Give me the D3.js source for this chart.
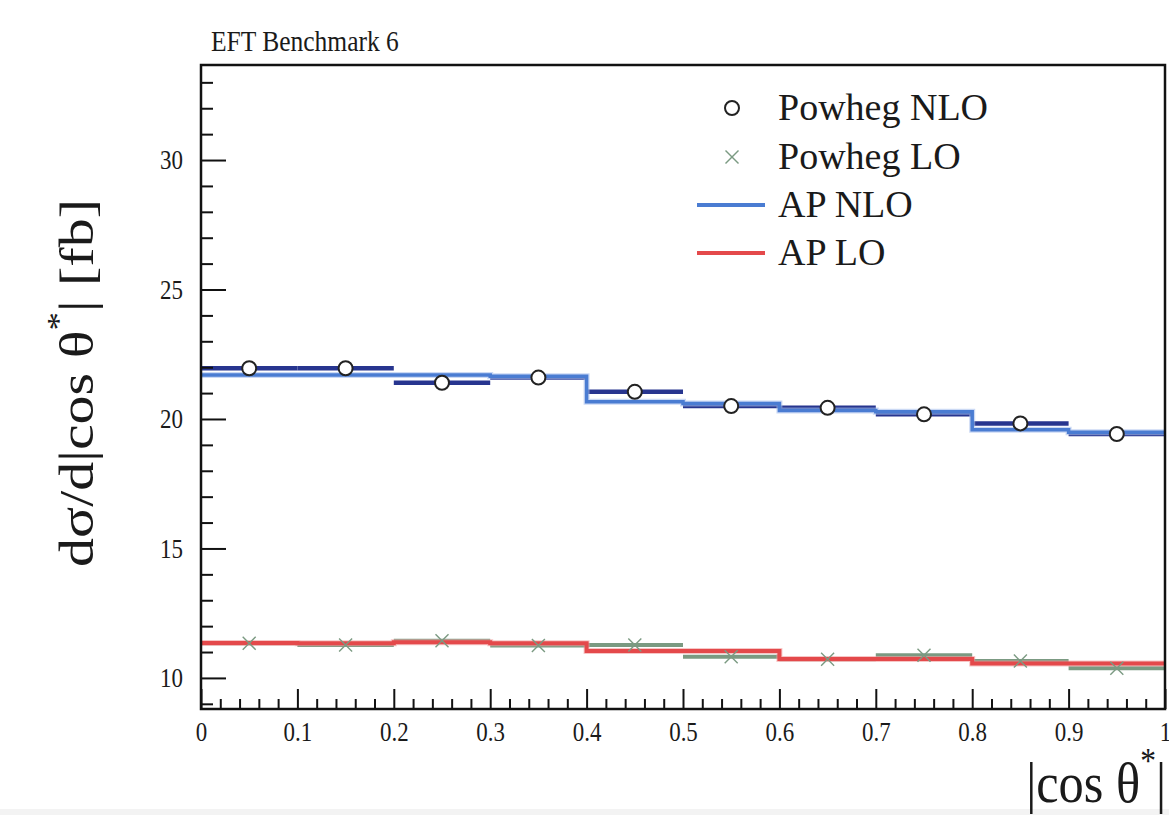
<!DOCTYPE html>
<html>
<head>
<meta charset="utf-8">
<script src="https://cdn.jsdelivr.net/npm/d3@7"></script>
<style>
  body { margin: 0; background: #fff; }
  svg { display: block; font-family: "Liberation Serif", "Times New Roman", serif; }
</style>
</head>
<body>
<svg id="chart" width="1169" height="815"></svg>
<script>
// ---------- data ----------
const binLow  = [0.0, 0.1, 0.2, 0.3, 0.4, 0.5, 0.6, 0.7, 0.8, 0.9];
const binHigh = [0.1, 0.2, 0.3, 0.4, 0.5, 0.6, 0.7, 0.8, 0.9, 1.0];
const powhegNLO = [21.96, 21.96, 21.40, 21.60, 21.05, 20.50, 20.43, 20.18, 19.83, 19.42];
const powhegLO  = [11.34, 11.27, 11.44, 11.25, 11.27, 10.82, 10.72, 10.88, 10.65, 10.37];
const apNLO     = [21.70, 21.70, 21.70, 21.65, 20.67, 20.60, 20.33, 20.28, 19.58, 19.49];
const apLO      = [11.35, 11.34, 11.38, 11.34, 11.04, 11.04, 10.73, 10.73, 10.56, 10.56];
const xMajorTicks = [0, 0.1, 0.2, 0.3, 0.4, 0.5, 0.6, 0.7, 0.8, 0.9, 1];
const xTickLabels = ["0", "0.1", "0.2", "0.3", "0.4", "0.5", "0.6", "0.7", "0.8", "0.9", "1"];
const yMajorTicks = [10, 15, 20, 25, 30];
const yMinorTicks = [9, 11, 12, 13, 14, 16, 17, 18, 19, 21, 22, 23, 24, 26, 27, 28, 29, 31, 32, 33];
const xMinorTicks = [0.02,0.04,0.06,0.08,0.12,0.14,0.16,0.18,0.22,0.24,0.26,0.28,0.32,0.34,0.36,0.38,
                     0.42,0.44,0.46,0.48,0.52,0.54,0.56,0.58,0.62,0.64,0.66,0.68,0.72,0.74,0.76,0.78,
                     0.82,0.84,0.86,0.88,0.92,0.94,0.96,0.98];
const legendLabels = ["Powheg NLO", "Powheg LO", "AP NLO", "AP LO"];
const titleText = "EFT Benchmark 6";
const xDomain = [0, 1];
const yDomain = [8.8, 33.67];

// ---------- layout ----------
const L = 201, R = 1165, T = 65, B = 709;
const colNavy = "#27358f", colBlue = "#4a7cd2", colRed = "#e4494b", colGreen = "#7b9a82";
const squeeze = 0.85;

const svg = d3.select("#chart");
svg.append("rect").attr("x", 0).attr("y", 0).attr("width", 1169).attr("height", 815).attr("fill", "#fff");
svg.append("rect").attr("x", 0).attr("y", 809).attr("width", 1169).attr("height", 6).attr("fill", "#f3f3f3");

const x = d3.scaleLinear().domain(xDomain).range([L, R]);
const y = d3.scaleLinear().domain(yDomain).range([B, T]);

const bins = binLow.map((lo, i) => ({lo, hi: binHigh[i], c: (lo + binHigh[i]) / 2, i}));

function stepLine(vals) {
  const pts = [];
  bins.forEach(b => { pts.push([x(b.lo), y(vals[b.i])]); pts.push([x(b.hi), y(vals[b.i])]); });
  return d3.line()(pts);
}

const plot = svg.append("g");

// Powheg LO bars
plot.selectAll("line.plo").data(bins).join("line")
  .attr("x1", d => x(d.lo)).attr("x2", d => x(d.hi))
  .attr("y1", d => y(powhegLO[d.i])).attr("y2", d => y(powhegLO[d.i]))
  .attr("stroke", colGreen).attr("stroke-width", 4);

// AP LO step
plot.append("path").attr("d", stepLine(apLO)).attr("fill", "none")
  .attr("stroke", "#f2a0a0").attr("stroke-width", 6).attr("opacity", 0.6);
plot.append("path").attr("d", stepLine(apLO)).attr("fill", "none")
  .attr("stroke", colRed).attr("stroke-width", 4);

// Powheg NLO bars
plot.selectAll("line.pnlo").data(bins).join("line")
  .attr("x1", d => x(d.lo)).attr("x2", d => x(d.hi))
  .attr("y1", d => y(powhegNLO[d.i])).attr("y2", d => y(powhegNLO[d.i]))
  .attr("stroke", colNavy).attr("stroke-width", 4.5);

// AP NLO step
plot.append("path").attr("d", stepLine(apNLO)).attr("fill", "none")
  .attr("stroke", "#a8c0ec").attr("stroke-width", 6).attr("opacity", 0.6);
plot.append("path").attr("d", stepLine(apNLO)).attr("fill", "none")
  .attr("stroke", colBlue).attr("stroke-width", 3.5);

// Powheg LO crosses
const cs = 6.5;
plot.selectAll("g.xm").data(bins).join("g")
  .attr("transform", d => `translate(${x(d.c)},${y(powhegLO[d.i])})`)
  .each(function() {
    const g = d3.select(this);
    g.append("line").attr("x1", -cs).attr("y1", -cs).attr("x2", cs).attr("y2", cs);
    g.append("line").attr("x1", -cs).attr("y1", cs).attr("x2", cs).attr("y2", -cs);
  })
  .selectAll("line").attr("stroke", colGreen).attr("stroke-width", 1.4);

// Powheg NLO circles
plot.selectAll("circle.om").data(bins).join("circle")
  .attr("cx", d => x(d.c)).attr("cy", d => y(powhegNLO[d.i])).attr("r", 7)
  .attr("fill", "#fff").attr("stroke", "#222").attr("stroke-width", 2);

// ---------- axes ----------
const yAxis = svg.append("g").attr("transform", `translate(${L},0)`)
  .call(d3.axisLeft(y).tickValues(yMajorTicks).tickSize(-25).tickPadding(18).tickFormat(d3.format("d")));
const yMinor = svg.append("g").attr("transform", `translate(${L},0)`)
  .call(d3.axisLeft(y).tickValues(yMinorTicks).tickSize(-12).tickFormat(""));
const xAxis = svg.append("g").attr("transform", `translate(0,${B})`)
  .call(d3.axisBottom(x).tickValues(xMajorTicks).tickSize(-20).tickPadding(13)
        .tickFormat((d, i) => xTickLabels[i]));
const xMinor = svg.append("g").attr("transform", `translate(0,${B})`)
  .call(d3.axisBottom(x).tickValues(xMinorTicks).tickSize(-10).tickFormat(""));

[yAxis, yMinor, xAxis, xMinor].forEach(a => {
  a.select(".domain").remove();
  a.selectAll(".tick line").attr("stroke", "#111").attr("stroke-width", 2);
  a.selectAll(".tick text")
    .attr("font-family", "Liberation Serif").attr("font-size", 27).attr("fill", "#1a1a1a")
    .attr("transform", function() {
      const tx = +d3.select(this).attr("x") || 0;
      return `translate(${tx},0) scale(${squeeze},1) translate(${-tx},0)`;
    });
});

// frame
svg.append("rect").attr("x", L).attr("y", T).attr("width", R - L).attr("height", B - T)
  .attr("fill", "none").attr("stroke", "#111").attr("stroke-width", 2.5);

// ---------- texts ----------
svg.append("text").attr("transform", `translate(211,51) scale(${squeeze},1)`)
  .attr("font-size", 30).attr("fill", "#1a1a1a").text(titleText);

// y label
const yl = svg.append("text").attr("transform", `translate(93,199) scale(${squeeze},1) rotate(-90)`)
  .attr("text-anchor", "end").attr("font-size", 58).attr("fill", "#1a1a1a");
yl.append("tspan").text("dσ/d|cos θ");
yl.append("tspan").attr("dy", -28).attr("font-size", 37).text("*");
yl.append("tspan").attr("dy", 28).text("| [fb]");

// x label
const xl = svg.append("text").attr("transform", `translate(1166,802) scale(0.9,1)`)
  .attr("text-anchor", "end").attr("font-size", 56).attr("fill", "#1a1a1a");
xl.append("tspan").text("|cos θ");
xl.append("tspan").attr("dy", -29).attr("font-size", 35).text("*");
xl.append("tspan").attr("dy", 29).text("|");

// ---------- legend ----------
const legY = [108, 157, 205, 253];
const leg = svg.append("g");
leg.append("circle").attr("cx", 732).attr("cy", legY[0]).attr("r", 7)
  .attr("fill", "#fff").attr("stroke", "#222").attr("stroke-width", 2);
const lx = leg.append("g").attr("transform", `translate(732,${legY[1]})`);
lx.append("line").attr("x1", -cs).attr("y1", -cs).attr("x2", cs).attr("y2", cs);
lx.append("line").attr("x1", -cs).attr("y1", cs).attr("x2", cs).attr("y2", -cs);
lx.selectAll("line").attr("stroke", colGreen).attr("stroke-width", 1.4);
leg.append("line").attr("x1", 697).attr("x2", 765).attr("y1", legY[2]).attr("y2", legY[2])
  .attr("stroke", colBlue).attr("stroke-width", 4);
leg.append("line").attr("x1", 697).attr("x2", 765).attr("y1", legY[3]).attr("y2", legY[3])
  .attr("stroke", colRed).attr("stroke-width", 4);
leg.selectAll("text.lt").data(legendLabels).join("text")
  .attr("x", 778).attr("y", (d, i) => legY[i] + 12)
  .attr("font-size", 38).attr("fill", "#1a1a1a").text(d => d);
</script>
</body>
</html>
